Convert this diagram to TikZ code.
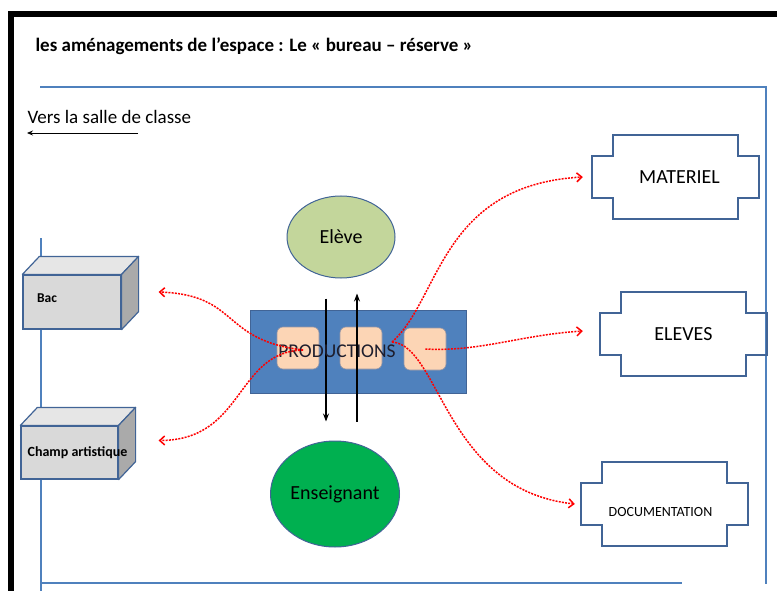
\documentclass[tikz,border=0pt]{standalone}
\usepackage{fontspec}
\setmainfont{Carlito}
\usepackage{tikz}
\usetikzlibrary{arrows.meta,shapes.geometric}

\definecolor{frameblue}{RGB}{79,129,189}
\definecolor{edgeblue}{RGB}{65,100,150}
\definecolor{lightgreen}{RGB}{195,214,155}
\definecolor{darkgreen}{RGB}{0,176,80}
\definecolor{peach}{RGB}{252,213,181}
\definecolor{tileline}{RGB}{150,150,165}
\definecolor{cubegray}{RGB}{217,217,217}
\definecolor{cubetop}{RGB}{230,230,230}
\definecolor{cubeside}{RGB}{170,170,170}

\tikzset{
	wall/.style={draw=frameblue, line width=1.6pt},
	bubble/.style={shape=ellipse, draw=edgeblue, line width=1pt, inner sep=0pt, font=\fontsize{20}{22}\selectfont},
	tile/.style={rectangle, rounded corners=6pt, fill=peach, draw=tileline, line width=0.6pt, minimum width=42pt, minimum height=42pt},
	cubefront/.style={rectangle, fill=cubegray, draw=edgeblue, line width=1.2pt, inner sep=0pt},
	cubeface/.style={draw=edgeblue, line width=1.2pt, line join=round},
	cubetext/.style={font=\bfseries\fontsize{13.5}{15}\selectfont},
	plaque/.style={rectangle, inner sep=0pt, minimum width=167pt, minimum height=84pt, font=\fontsize{20}{22}\selectfont},
	plaqueline/.style={draw=edgeblue, line width=1.5pt},
	flow/.style={draw=red, dash pattern=on 2pt off 1.2pt, line width=1.5pt, -{Straight Barb[length=5pt,width=9pt]}},
	link/.style={draw=black, line width=1.1pt, -{Stealth[length=8pt,width=6pt]}}
}

\begin{document}
\begin{tikzpicture}[x=1pt, y=-1pt]

	\useasboundingbox (0,0) rectangle (777,591);

	\fill[black] (8,11) rectangle (777,17);
	\fill[black] (8,11) rectangle (14,591);

	\draw[wall] (40,87) -- (766,87) -- (766,584);
	\draw[wall] (41,238) -- (41,591);
	\draw[wall] (41,583) -- (682,583);

	\node[anchor=west, font=\bfseries\fontsize{19}{22}\selectfont] (title) at (32,46) {les aménagements de l’espace : Le « bureau – réserve »};
	\node[anchor=west, font=\fontsize{19}{22}\selectfont] (vers) at (24,117) {Vers la salle de classe};
	\coordinate (versfrom) at (138,133);
	\coordinate (versto) at (27,133);
	\draw[link, line width=0.8pt, -{Stealth[length=6pt,width=5pt]}] (versfrom) -- (versto);

	\node[bubble, fill=lightgreen, minimum width=108pt, minimum height=82pt] (eleve) at (341,237) {Elève};
	\node[bubble, fill=darkgreen, minimum width=129pt, minimum height=106pt] (ens) at (335,494) {Enseignant};

	\node[rectangle, fill=frameblue, draw=edgeblue, line width=1pt, minimum width=216pt, minimum height=83pt] (prod) at (358,352) {};
	\node[tile] (sq1) at (298,348) {};
	\node[tile] (sq2) at (361,348) {};
	\node[tile] (sq3) at (425,349) {};

	\draw[link] ([shift={(-15pt,-20pt)}]eleve.south) -- ([shift={(-9pt,19pt)}]ens.north);
	\draw[link] ([shift={(22pt,19pt)}]ens.north) -- ([shift={(16pt,-15pt)}]eleve.south);

	\node[font=\fontsize{19.5}{22}\selectfont, text={rgb,255:red,30;green,30;blue,45}] (prodtxt) at (337,351) {PRODUCTIONS};

	\node[cubefront, minimum width=98pt, minimum height=54pt] (bac) at (72,302) {};
	\node[cubefront, minimum width=97pt, minimum height=53pt] (champ) at (69.5,452.5) {};
	\foreach \n in {bac,champ} {
		\filldraw[cubeface, fill=cubetop] (\n.north west) -- ++(17pt,18pt) -- ([shift={(17pt,18pt)}]\n.north east) -- (\n.north east) -- cycle;
		\filldraw[cubeface, fill=cubeside] (\n.north east) -- ++(17pt,18pt) -- ([shift={(17pt,18pt)}]\n.south east) -- (\n.south east) -- cycle;
	}
	\node[cubetext] (bactxt) at ([shift={(-25pt,4pt)}]bac.center) {Bac};
	\node[cubetext, font=\bfseries\fontsize{14}{15}\selectfont] (champtxt) at ([shift={(8pt,0pt)}]champ.center) {Champ artistique};

	\node[plaque] (mat) at (675.5,177) {\hspace*{8pt}MATERIEL};
	\node[plaque] (elv) at (683.5,334) {ELEVES};
	\node[plaque, label={[font=\fontsize{14}{15}\selectfont, xshift=-4pt, yshift=-8pt]center:DOCUMENTATION}] (doc) at (664.5,504) {};
	\foreach \n in {mat,elv,doc} {
		\draw[plaqueline] ([xshift=21pt]\n.north west) -- ([xshift=-21pt]\n.north east) -- ([shift={(-21pt,-21pt)}]\n.north east) -- ([yshift=-21pt]\n.north east) -- ([yshift=21pt]\n.south east) -- ([shift={(-21pt,21pt)}]\n.south east) -- ([xshift=-21pt]\n.south east) -- ([xshift=21pt]\n.south west) -- ([shift={(21pt,21pt)}]\n.south west) -- ([yshift=21pt]\n.south west) -- ([yshift=-21pt]\n.north west) -- ([shift={(21pt,-21pt)}]\n.north west) -- cycle;
	}

	\coordinate (hub) at (392,342);
	\coordinate (left) at (303,350);
	\draw[flow] (hub) .. controls (440,300) and (440,185) .. ([xshift=-9pt]mat.west);
	\draw[flow] ([xshift=-21pt]sq3.east) .. controls (480,352) and (520,335) .. ([shift={(-17pt,3pt)}]elv.west);
	\draw[flow] (hub) .. controls (440,345) and (445,490) .. ([xshift=-6pt]doc.west);
	\draw[flow] (left) .. controls (220,340) and (240,295) .. ([shift={(37pt,10pt)}]bac.east);
	\draw[flow] (left) .. controls (235,352) and (245,440) .. ([shift={(40pt,12pt)}]champ.east);

\end{tikzpicture}
\end{document}
